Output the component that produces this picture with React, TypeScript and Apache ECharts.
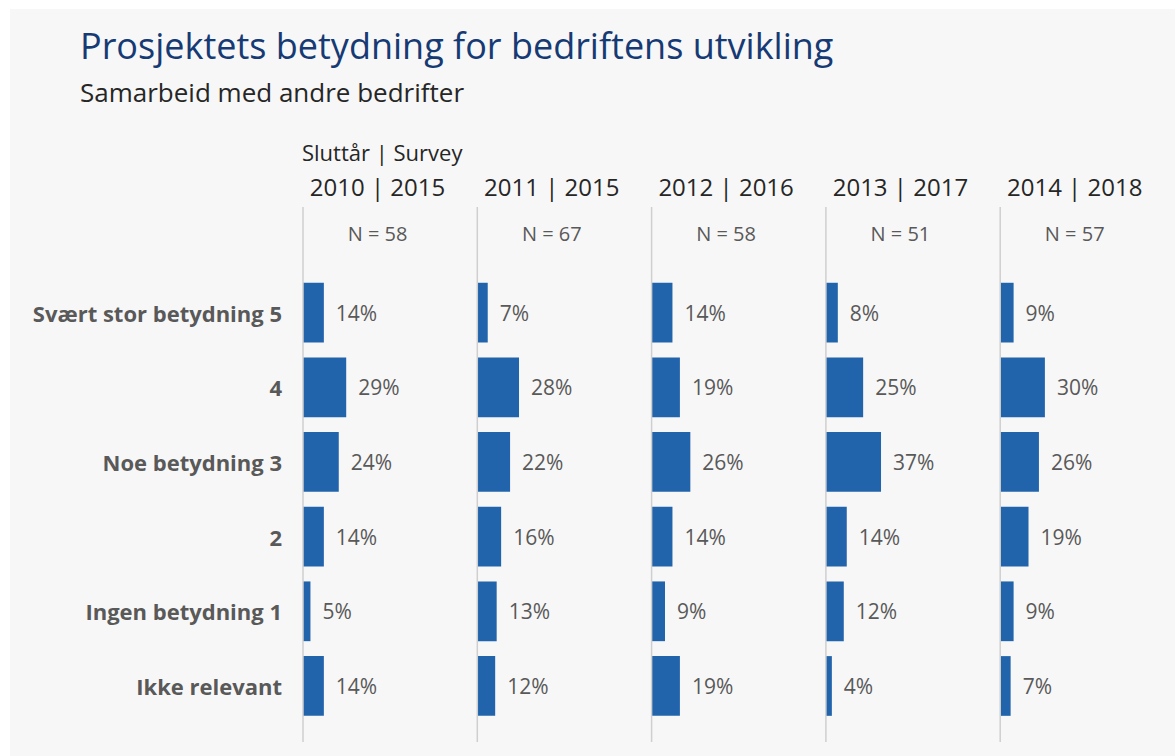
import React, { useEffect, useRef } from "react";
import * as echarts from "echarts";

const categories = [
  "Svært stor betydning 5",
  "4",
  "Noe betydning 3",
  "2",
  "Ingen betydning 1",
  "Ikke relevant",
];
const panelTitles = ["2010 | 2015", "2011 | 2015", "2012 | 2016", "2013 | 2017", "2014 | 2018"];
const panelN = ["N = 58", "N = 67", "N = 58", "N = 51", "N = 57"];
const values2010 = [14, 29, 24, 14, 5, 14];
const values2011 = [7, 28, 22, 16, 13, 12];
const values2012 = [14, 19, 26, 14, 9, 19];
const values2013 = [8, 25, 37, 14, 12, 4];
const values2014 = [9, 30, 26, 19, 9, 7];
const panelValues = [values2010, values2011, values2012, values2013, values2014];

const FONT = "'Open Sans', 'Noto Sans', sans-serif";

export default function App() {
  const ref = useRef<HTMLDivElement>(null);
  useEffect(() => {
    document.body.style.margin = "0";
    const chart = echarts.init(ref.current!, null, { renderer: "svg" });
    const left0 = 303;
    const step = 174.3;
    const gw = 149;
    const top = 275.3;
    const gh = 448;

    const grids: any[] = [];
    const xAxes: any[] = [];
    const yAxes: any[] = [];
    const series: any[] = [];
    const graphics: any[] = [
      {
        type: "rect",
        shape: { x: 10, y: 9, width: 1165, height: 747 },
        style: { fill: "#f7f7f7" },
        z: -10,
      },
      {
        type: "text",
        x: 80,
        y: 45,
        style: {
          text: "Prosjektets betydning for bedriftens utvikling",
          font: `36px ${FONT}`,
          fill: "#163a74",
          verticalAlign: "middle",
        },
      },
      {
        type: "text",
        x: 80,
        y: 92,
        style: {
          text: "Samarbeid med andre bedrifter",
          font: `26px ${FONT}`,
          fill: "#262626",
          verticalAlign: "middle",
        },
      },
      {
        type: "text",
        x: 302,
        y: 152,
        style: {
          text: "Sluttår | Survey",
          font: `22px ${FONT}`,
          fill: "#262626",
          verticalAlign: "middle",
        },
      },
    ];

    panelValues.forEach((vals, i) => {
      const left = left0 + i * step;
      grids.push({ left, top, width: gw, height: gh, containLabel: false });
      xAxes.push({
        type: "value",
        gridIndex: i,
        min: 0,
        max: 100,
        show: false,
      });
      yAxes.push({
        type: "category",
        gridIndex: i,
        data: categories,
        inverse: true,
        axisLine: { show: false },
        axisTick: { show: false },
        splitLine: { show: false },
        axisLabel: {
          show: i === 0,
          fontFamily: FONT,
          fontWeight: "bold",
          fontSize: 22,
          color: "#595959",
          margin: 21,
        },
      });
      series.push({
        type: "bar",
        xAxisIndex: i,
        yAxisIndex: i,
        data: vals,
        barCategoryGap: "20%",
        itemStyle: { color: "#2264ab" },
        label: {
          show: true,
          position: "right",
          distance: 12,
          formatter: "{c}%",
          fontFamily: FONT,
          fontSize: 21,
          color: "#595959",
        },
      });
      graphics.push({
        type: "line",
        shape: { x1: left, y1: 207, x2: left, y2: 742 },
        style: { stroke: "#cfcfcf", lineWidth: 1.5 },
        z: 5,
      });
      graphics.push({
        type: "text",
        x: left + gw / 2,
        y: 186,
        style: {
          text: panelTitles[i],
          font: `24px ${FONT}`,
          fill: "#262626",
          align: "center",
          verticalAlign: "middle",
        },
      });
      graphics.push({
        type: "text",
        x: left + gw / 2,
        y: 233,
        style: {
          text: panelN[i],
          font: `20px ${FONT}`,
          fill: "#595959",
          align: "center",
          verticalAlign: "middle",
        },
      });
    });

    chart.setOption({
      animation: false,
      backgroundColor: "#ffffff",
      grid: grids,
      xAxis: xAxes,
      yAxis: yAxes,
      series,
      graphic: graphics,
    });
    return () => chart.dispose();
  }, []);
  return <div ref={ref} style={{ width: 1175, height: 756 }} />;
}
